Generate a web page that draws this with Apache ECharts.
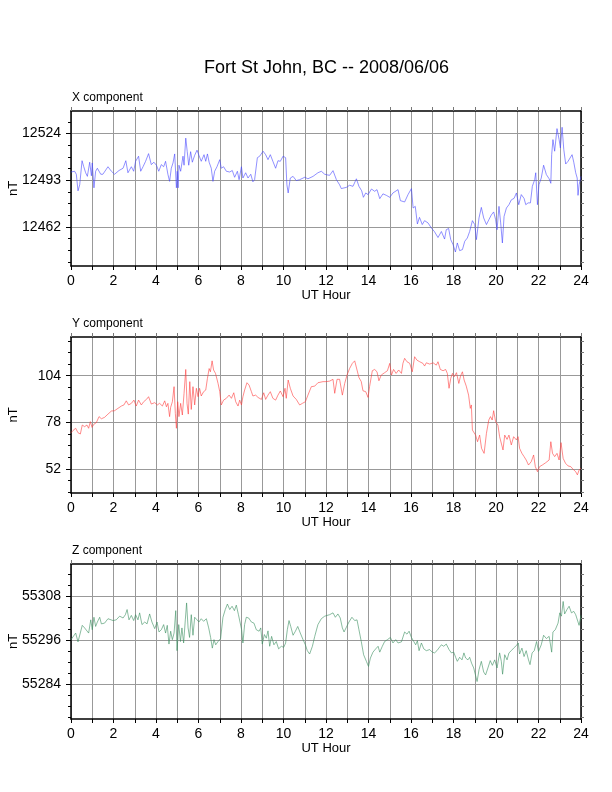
<!DOCTYPE html>
<html>
<head>
<meta charset="utf-8">
<title>Fort St John, BC -- 2008/06/06</title>
<script src="https://cdn.jsdelivr.net/npm/echarts@6/dist/echarts.min.js"></script>
<style>
  html, body { margin: 0; padding: 0; background: #fff; }
  #chart { width: 612px; height: 792px; }
</style>
</head>
<body>
<div id="chart"></div>
<script>
// X component (nT)
const xHours = [
  0, 0.17, 0.25, 0.33, 0.41, 0.52, 0.6, 0.69, 0.77, 0.88,
  0.96, 1.0, 1.08, 1.16, 1.24, 1.32, 1.4, 1.5, 1.74, 1.9,
  2.05, 2.26, 2.45, 2.58, 2.68, 2.84, 2.95, 3.04, 3.18, 3.28,
  3.39, 3.51, 3.65, 3.78, 3.9, 4.02, 4.13, 4.25, 4.36, 4.45,
  4.56, 4.64, 4.72, 4.8, 4.88, 4.96, 5.0, 5.04, 5.08, 5.16,
  5.27, 5.32, 5.4, 5.47, 5.54, 5.63, 5.71, 5.82, 5.93, 6.02,
  6.13, 6.26, 6.34, 6.42, 6.5, 6.6, 6.68, 6.76, 6.87, 7.0,
  7.07, 7.18, 7.31, 7.47, 7.59, 7.7, 7.83, 7.91, 8.02, 8.09,
  8.22, 8.33, 8.46, 8.56, 8.64, 8.77, 8.88, 9.04, 9.16, 9.27,
  9.38, 9.5, 9.63, 9.74, 9.85, 9.98, 10.1, 10.16, 10.22, 10.32,
  10.45, 10.6, 10.76, 11.0, 11.15, 11.39, 11.62, 11.78, 11.94, 12.05,
  12.17, 12.33, 12.49, 12.64, 12.72, 12.96, 13.11, 13.27, 13.43, 13.55,
  13.68, 13.76, 13.87, 13.98, 14.14, 14.29, 14.4, 14.53, 14.68, 14.84,
  15.0, 15.15, 15.39, 15.5, 15.7, 15.86, 15.94, 16.02, 16.1, 16.2,
  16.3, 16.4, 16.53, 16.64, 16.8, 16.96, 17.1, 17.27, 17.43, 17.58,
  17.66, 17.77, 17.87, 17.98, 18.09, 18.18, 18.29, 18.42, 18.53, 18.65,
  18.76, 18.89, 19.0, 19.08, 19.2, 19.31, 19.42, 19.55, 19.67, 19.78,
  19.89, 19.98, 20.05, 20.14, 20.22, 20.3, 20.38, 20.49, 20.61, 20.72,
  20.85, 20.96, 21.07, 21.19, 21.32, 21.4, 21.51, 21.62, 21.71, 21.82,
  21.87, 21.95, 22.02, 22.13, 22.24, 22.37, 22.5, 22.58, 22.62, 22.68,
  22.76, 22.87, 22.97, 23.03, 23.11, 23.19, 23.28, 23.39, 23.47, 23.58,
  23.66, 23.75, 23.82, 23.86, 23.91, 24.0
];
const xValues = [
  12498.5, 12499, 12497, 12486, 12490, 12506, 12502, 12498, 12495.6, 12505,
  12496, 12504.5, 12488, 12499, 12501, 12502, 12497, 12497, 12502, 12499,
  12497, 12499.5, 12501, 12506, 12498, 12502, 12499, 12505.6, 12509, 12499,
  12502, 12505.6, 12510.7, 12503.4, 12505, 12503, 12499, 12503.4, 12502, 12505.6,
  12497, 12492.3, 12501, 12504.5, 12510.5, 12488, 12499, 12488, 12503, 12499,
  12509, 12503, 12521, 12512, 12503, 12512, 12505, 12509.6, 12513, 12509.6,
  12505.6, 12510, 12505.6, 12510.5, 12505, 12501, 12492.3, 12499, 12502, 12506.7,
  12501, 12502, 12499, 12498.5, 12499.5, 12495, 12499, 12493.4, 12502, 12494.5,
  12498, 12494.5, 12497, 12492, 12493.4, 12508, 12509, 12512.3, 12510, 12506.7,
  12510, 12505.6, 12501, 12506, 12505.6, 12509, 12508, 12490, 12484.6, 12494.5,
  12495.6, 12492.8, 12493.4, 12495, 12494, 12495.6, 12498, 12499, 12497, 12496.6,
  12496.3, 12499.4, 12493.4, 12490, 12487.5, 12488.3, 12489.7, 12489, 12494, 12489,
  12486, 12481.7, 12484.6, 12483.5, 12487.2, 12485.7, 12486.8, 12480.8, 12484, 12483,
  12481.7, 12484.6, 12486.8, 12479.5, 12478.6, 12483.5, 12483.5, 12487.5, 12474.6, 12475.7,
  12464, 12468.4, 12463.6, 12466.2, 12464.7, 12461.3, 12459, 12455, 12459, 12454,
  12460.2, 12461, 12453.6, 12450.3, 12445.4, 12451.4, 12446.3, 12447, 12452.5, 12454.7,
  12459, 12466.2, 12463.6, 12453.6, 12468, 12475, 12468, 12463.6, 12467, 12470,
  12472, 12467, 12460.2, 12475.7, 12464.7, 12451.4, 12469, 12474.6, 12476.8, 12480,
  12481, 12484.6, 12476.8, 12483.5, 12481, 12476.8, 12478, 12478, 12489, 12493.4,
  12498, 12476.8, 12490, 12494.5, 12503, 12496.8, 12494, 12491, 12510, 12520,
  12512.3, 12527.3, 12520, 12514.5, 12528.2, 12513.4, 12503.8, 12505.6, 12504.5, 12510,
  12505, 12498, 12494.5, 12483, 12490, 12495.6
];

// Y component (nT)
const yHours = [
  0, 0.09, 0.22, 0.33, 0.44, 0.53, 0.64, 0.75, 0.83, 0.91,
  0.99, 1.08, 1.19, 1.32, 1.43, 1.58, 1.74, 1.9, 2.05, 2.21,
  2.37, 2.49, 2.6, 2.71, 2.84, 2.96, 3.07, 3.18, 3.31, 3.42,
  3.55, 3.65, 3.78, 3.94, 4.06, 4.17, 4.3, 4.41, 4.49, 4.56,
  4.64, 4.69, 4.77, 4.85, 4.91, 4.96, 5.02, 5.08, 5.16, 5.24,
  5.32, 5.4, 5.46, 5.52, 5.59, 5.66, 5.74, 5.82, 5.9, 5.98,
  6.05, 6.13, 6.24, 6.34, 6.42, 6.5, 6.56, 6.64, 6.71, 6.8,
  6.92, 7.0, 7.07, 7.18, 7.31, 7.44, 7.55, 7.66, 7.75, 7.86,
  7.94, 8.02, 8.09, 8.17, 8.28, 8.38, 8.49, 8.56, 8.69, 8.8,
  8.96, 9.07, 9.16, 9.27, 9.38, 9.5, 9.63, 9.74, 9.85, 9.98,
  10.07, 10.13, 10.22, 10.32, 10.45, 10.6, 10.76, 10.89, 11.03, 11.15,
  11.31, 11.47, 11.62, 11.86, 12.0, 12.17, 12.33, 12.41, 12.52, 12.64,
  12.77, 12.88, 12.99, 13.11, 13.24, 13.35, 13.46, 13.55, 13.66, 13.74,
  13.87, 13.98, 14.05, 14.18, 14.29, 14.4, 14.49, 14.6, 14.76, 14.89,
  15.0, 15.08, 15.18, 15.3, 15.42, 15.55, 15.62, 15.7, 15.81, 15.94,
  16.06, 16.17, 16.28, 16.41, 16.56, 16.64, 16.72, 16.88, 17.04, 17.19,
  17.27, 17.38, 17.51, 17.63, 17.71, 17.79, 17.87, 17.95, 18.03, 18.14,
  18.25, 18.33, 18.42, 18.5, 18.6, 18.71, 18.79, 18.84, 18.89, 18.97,
  19.04, 19.13, 19.23, 19.32, 19.44, 19.55, 19.66, 19.74, 19.82, 19.89,
  19.98, 20.09, 20.17, 20.25, 20.33, 20.41, 20.52, 20.61, 20.72, 20.83,
  20.96, 21.04, 21.11, 21.22, 21.32, 21.42, 21.53, 21.66, 21.77, 21.85,
  21.95, 22.05, 22.18, 22.34, 22.5, 22.58, 22.66, 22.76, 22.87, 22.97,
  23.06, 23.16, 23.27, 23.39, 23.52, 23.63, 23.75, 23.83, 23.91, 24.0
];
const yValues = [
  72.2, 73.4, 74.7, 72.2, 71.5, 76.5, 75.6, 76.5, 74.7, 78.4,
  75.2, 77, 77.8, 81.2, 80, 80.8, 82.6, 84.3, 84.5, 85.8,
  87.1, 87.7, 90, 87.7, 88.6, 90.4, 87.1, 90.4, 87.7, 89.5,
  90.8, 92.3, 88.2, 89, 87.7, 88.6, 87.1, 90, 86.7, 88.6,
  81.2, 86.4, 89.5, 97.9, 83, 74.7, 89.5, 81.2, 88.6, 82.1,
  94.2, 107.5, 88.6, 82.6, 100.7, 85.2, 97.9, 87.7, 97, 92.3,
  97, 92.7, 95.1, 96, 102.5, 108, 106.2, 112.3, 107.2, 105.3,
  99.7, 95.1, 87.7, 90.4, 91.4, 93.2, 91.4, 94.5, 89.5, 87.1,
  90.4, 87.7, 92.3, 96, 100.1, 98.8, 95.1, 92.7, 93.2, 91.9,
  90.8, 94.5, 90.8, 93.2, 95.1, 91.4, 90.4, 93.2, 95.5, 92.3,
  97, 91.4, 101.6, 97, 92.7, 90.8, 87.7, 88.6, 89.5, 93.2,
  97.9, 98.2, 100.1, 100.7, 100.7, 101, 102, 94.2, 102, 102,
  93.2, 99.7, 104.4, 108, 110.9, 112.3, 107.2, 103, 100.7, 95.6,
  95.1, 91.9, 97.9, 106.8, 107.5, 106.2, 101.2, 104.4, 105.7, 106.8,
  110.9, 104.4, 107.5, 105.3, 107.2, 105.3, 110.9, 113.7, 111.8, 110.9,
  106.2, 114.6, 112.7, 111.8, 110.9, 109.4, 111.2, 110.5, 111.2, 109.9,
  111.8, 107.5, 106.8, 107.5, 105.3, 97, 102.5, 105.3, 103.4, 105.7,
  99.7, 103.8, 106.2, 101.6, 98.2, 93.2, 85.8, 87.7, 73.7, 74.7,
  70.9, 67.2, 70.9, 63.5, 60.7, 71.9, 79.3, 81.2, 79.3, 84.5,
  78.4, 76.5, 70, 70.9, 62.6, 70.9, 68.5, 70.9, 65.4, 70,
  68.2, 70, 63.5, 60.7, 58.9, 57, 54.2, 56.1, 59.8, 53.3,
  50.5, 53.3, 54.2, 55.5, 57, 67.2, 60.7, 58.9, 60.7, 57,
  66.7, 57.9, 55.2, 53.7, 53.3, 51.8, 50.5, 48.7, 51.4, 52.4
];

// Z component (nT)
const zHours = [
  0, 0.09, 0.22, 0.33, 0.41, 0.53, 0.64, 0.72, 0.83, 0.93,
  1.0, 1.08, 1.16, 1.24, 1.35, 1.43, 1.58, 1.74, 1.98, 2.13,
  2.29, 2.45, 2.56, 2.64, 2.73, 2.84, 2.95, 3.04, 3.15, 3.23,
  3.34, 3.47, 3.58, 3.7, 3.81, 3.94, 4.05, 4.14, 4.25, 4.36,
  4.45, 4.53, 4.61, 4.69, 4.77, 4.85, 4.93, 4.99, 5.07, 5.15,
  5.22, 5.3, 5.38, 5.44, 5.51, 5.58, 5.66, 5.74, 5.82, 5.93,
  6.02, 6.13, 6.24, 6.37, 6.48, 6.57, 6.65, 6.73, 6.81, 6.92,
  7.04, 7.15, 7.26, 7.36, 7.47, 7.58, 7.69, 7.78, 7.88, 7.97,
  8.03, 8.09, 8.17, 8.25, 8.36, 8.49, 8.61, 8.72, 8.85, 8.93,
  9.0, 9.1, 9.19, 9.27, 9.35, 9.44, 9.55, 9.66, 9.77, 9.9,
  10.01, 10.1, 10.18, 10.26, 10.34, 10.45, 10.56, 10.67, 10.79, 10.92,
  11.03, 11.12, 11.23, 11.36, 11.47, 11.62, 11.78, 11.94, 12.0, 12.17,
  12.33, 12.44, 12.56, 12.67, 12.77, 12.85, 12.96, 13.08, 13.22, 13.35,
  13.46, 13.55, 13.66, 13.77, 13.9, 14.0, 14.09, 14.21, 14.34, 14.45,
  14.53, 14.65, 14.76, 14.89, 15.03, 15.15, 15.28, 15.39, 15.55, 15.7,
  15.81, 15.91, 16.02, 16.13, 16.22, 16.3, 16.38, 16.49, 16.6, 16.72,
  16.88, 17.0, 17.11, 17.22, 17.31, 17.43, 17.54, 17.66, 17.79, 17.9,
  18.01, 18.1, 18.18, 18.29, 18.4, 18.49, 18.57, 18.68, 18.76, 18.85,
  18.95, 19.02, 19.11, 19.2, 19.31, 19.42, 19.51, 19.62, 19.73, 19.83,
  19.94, 20.05, 20.17, 20.25, 20.31, 20.41, 20.52, 20.61, 20.72, 20.83,
  20.96, 21.05, 21.11, 21.22, 21.32, 21.42, 21.53, 21.6, 21.7, 21.8,
  21.91, 22.0, 22.13, 22.24, 22.37, 22.5, 22.58, 22.62, 22.68, 22.79,
  22.92, 23.0, 23.08, 23.16, 23.23, 23.34, 23.44, 23.55, 23.66, 23.75,
  23.83, 23.91, 24.0
];
const zValues = [
  55296.1, 55296.4, 55297.9, 55295.5, 55295.6, 55300, 55299.3, 55299.7, 55297.9, 55301.5,
  55298.8, 55302.2, 55299.7, 55300.9, 55302.2, 55300.4, 55300.6, 55301.8, 55301.3, 55301.5,
  55302.5, 55302, 55302.9, 55304.3, 55301.5, 55302.7, 55301.3, 55302.9, 55301.5, 55303.4,
  55300.2, 55300.9, 55300.4, 55303.1, 55300.9, 55299.1, 55300.9, 55298.2, 55298.8, 55300.2,
  55297.9, 55300, 55294.9, 55298.4, 55296.1, 55297.9, 55304, 55293.1, 55300.2, 55295.6,
  55299.3, 55295.2, 55301.5, 55306.1, 55299.3, 55296.7, 55302.9, 55297.3, 55302.2, 55301.5,
  55300.9, 55301.8, 55301.1, 55301.8, 55299.3, 55296.7, 55293.8, 55296.1, 55294.7, 55295.6,
  55296.4, 55302.2, 55304.3, 55305.8, 55304.3, 55305.2, 55304, 55305.5, 55302.9, 55302.7,
  55298.8, 55295.2, 55300.2, 55302.2, 55302, 55300.9, 55300.6, 55298.8, 55298.4, 55299.3,
  55294.9, 55297.5, 55296.5, 55298.5, 55294.3, 55297, 55294.7, 55295.6, 55293.6, 55294.3,
  55294, 55295.2, 55298.8, 55301.3, 55299.7, 55297.3, 55298.4, 55299.7, 55297.9, 55296.1,
  55294.7, 55293.1, 55292.2, 55294.3, 55297, 55300.2, 55301.8, 55302.5, 55302.7, 55302.9,
  55303.4, 55302.2, 55303.1, 55302, 55299.3, 55298.2, 55299.5, 55300.9, 55302.2, 55301.3,
  55301.5, 55298.8, 55295.6, 55292, 55290.2, 55288.8, 55291.1, 55292.7, 55293.6, 55294.3,
  55292.7, 55294.3, 55295.6, 55296.1, 55296.7, 55295.2, 55296.1, 55295.2, 55295.5, 55298.2,
  55297.6, 55298.4, 55296.7, 55295.6, 55294.7, 55295.8, 55293.1, 55295.2, 55293.6, 55293.1,
  55293.4, 55292.7, 55292.5, 55293.1, 55293.8, 55294.7, 55294.3, 55294.9, 55293.4, 55292.5,
  55292.7, 55291.3, 55290.2, 55291.3, 55290.6, 55292.5, 55291.1, 55290.6, 55291.3, 55289.7,
  55288.4, 55288.8, 55284.7, 55287.9, 55290.2, 55287.3, 55286.5, 55288.4, 55290.4, 55289.1,
  55290.6, 55288.4, 55292.5, 55290.2, 55286.7, 55292, 55290.6, 55292.5, 55293.1, 55293.8,
  55294.5, 55295.2, 55292.2, 55293.8, 55291.5, 55293.1, 55290.6, 55289.3, 55292.5, 55293.1,
  55295.6, 55292.9, 55294.7, 55297.3, 55296.4, 55297, 55297.3, 55292.7, 55298.2, 55298.8,
  55300.6, 55303.4, 55302.5, 55306.5, 55303.1, 55304.3, 55305.2, 55303.4, 55303.8, 55302.9,
  55303.4, 55300, 55302.7
];

// tick labels
const xTicks = [12462, 12493, 12524];
const yTicks = [52, 78, 104];
const zTicks = [55284, 55296, 55308];
const hourLabels = [0, 2, 4, 6, 8, 10, 12, 14, 16, 18, 20, 22, 24];

const FONT = '"Liberation Sans", Arial, Helvetica, sans-serif';

const panels = [
  { title: 'X component', hours: xHours, values: xValues, ticks: xTicks,
    min: 12436.1, max: 12539, color: '#4646ff', top: 111, height: 155 },
  { title: 'Y component', hours: yHours, values: yValues, ticks: yTicks,
    min: 38.6, max: 125.6, color: '#ff3c3c', top: 337, height: 156 },
  { title: 'Z component', hours: zHours, values: zValues, ticks: zTicks,
    min: 55274.5, max: 55316.7, color: '#3a8f60', top: 564, height: 155 }
];

// minor ticks: quarter steps between the labelled ticks
function minorTicks(p) {
  const step = (p.ticks[1] - p.ticks[0]) / 4;
  const out = [];
  for (let v = p.ticks[0]; v >= p.min; v -= step) out.push(v);
  for (let v = p.ticks[0] + step; v <= p.max; v += step) out.push(v);
  return out;
}

const chart = echarts.init(document.getElementById('chart'), null, { renderer: 'canvas' });

const titles = [{
  text: 'Fort St John, BC -- 2008/06/06',
  left: 204, top: 59, padding: 0,
  textStyle: { fontFamily: FONT, fontSize: 18, fontWeight: 'normal', color: '#000' }
}];
const grids = [], xAxes = [], yAxes = [], series = [];

panels.forEach((p, i) => {
  titles.push({
    text: p.title, left: 72, top: p.top - 19, padding: 0,
    textStyle: { fontFamily: FONT, fontSize: 12, fontWeight: 'normal', color: '#000' }
  });
  grids.push({ left: 71, right: 31, top: p.top, height: p.height, outerBoundsMode: 'none' });

  const frame = { lineStyle: { color: '#000', width: 1.5 } };
  // bottom hour axis
  xAxes.push({
    gridIndex: i, type: 'value', position: 'bottom', min: 0, max: 24, interval: 1,
    axisLine: frame,
    axisTick: { length: 4, lineStyle: { color: '#000' } },
    axisLabel: { customValues: hourLabels, fontFamily: FONT, fontSize: 14, color: '#000', margin: 8 },
    splitLine: { show: true, lineStyle: { color: '#999', width: 1 } },
    name: 'UT Hour', nameLocation: 'middle', nameGap: 23,
    nameTextStyle: { fontFamily: FONT, fontSize: 13, color: '#000' }
  });
  // top frame with hour ticks
  xAxes.push({
    gridIndex: i, type: 'value', position: 'top', min: 0, max: 24, interval: 1,
    axisLine: frame,
    axisTick: { length: 4, lineStyle: { color: '#777' } },
    axisLabel: { show: false },
    splitLine: { show: false }
  });

  const minors = minorTicks(p);
  // left axis: labels, major ticks and grid lines
  yAxes.push({
    gridIndex: i, type: 'value', position: 'left', min: p.min, max: p.max,
    axisLine: { show: true, lineStyle: { color: '#000', width: 1.5 } },
    axisTick: { show: true, customValues: p.ticks, length: 5, lineStyle: { color: '#000' } },
    axisLabel: { customValues: p.ticks, formatter: v => String(v),
      fontFamily: FONT, fontSize: 14, color: '#000', margin: 10 },
    splitLine: { show: true, lineStyle: { color: '#999', width: 1 } },
    name: 'nT', nameLocation: 'middle', nameGap: 51, nameMoveOverlap: false,
    nameTextStyle: { fontFamily: FONT, fontSize: 13, color: '#000' }
  });
  // left minor ticks
  yAxes.push({
    gridIndex: i, type: 'value', position: 'left', min: p.min, max: p.max,
    axisLine: { show: false },
    axisTick: { show: true, customValues: minors, length: 3, lineStyle: { color: '#000' } },
    axisLabel: { show: false },
    splitLine: { show: false }
  });
  // right frame with ticks
  yAxes.push({
    gridIndex: i, type: 'value', position: 'right', min: p.min, max: p.max,
    axisLine: { show: true, lineStyle: { color: '#000', width: 1.5 } },
    axisTick: { show: true, customValues: minors, length: 3, lineStyle: { color: '#777' } },
    axisLabel: { show: false },
    splitLine: { show: false }
  });

  series.push({
    name: p.title, type: 'line',
    xAxisIndex: i * 2, yAxisIndex: i * 3,
    data: p.hours.map((h, k) => [h, p.values[k]]),
    showSymbol: false, symbol: 'none',
    lineStyle: { color: p.color, width: 0.6 },
    itemStyle: { color: p.color },
    animation: false
  });
});

chart.setOption({
  backgroundColor: '#fff',
  animation: false,
  title: titles,
  grid: grids,
  xAxis: xAxes,
  yAxis: yAxes,
  series: series
});
</script>
</body>
</html>
